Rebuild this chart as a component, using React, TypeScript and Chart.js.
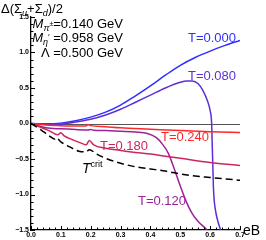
import React, { useEffect, useRef } from 'react';
import { Chart, registerables } from 'chart.js';

Chart.register(...registerables);

// ---------- data ----------
const eB_T000 = [0, 0.05, 0.1, 0.15, 0.2, 0.25, 0.3, 0.35, 0.4, 0.45, 0.5, 0.55, 0.6, 0.65, 0.7];
const dS_T000 = [0, -0.005, 0.005, 0.04, 0.09, 0.16, 0.26, 0.39, 0.53, 0.68, 0.82, 0.93, 1.02, 1.1, 1.17];

const eB_T080 = [0, 0.05, 0.1, 0.15, 0.2, 0.25, 0.3, 0.35, 0.4, 0.45, 0.5, 0.52, 0.54, 0.56, 0.575, 0.59, 0.6, 0.605, 0.607, 0.609, 0.611, 0.614, 0.619, 0.626, 0.635];
const dS_T080 = [0, -0.01, -0.01, 0.02, 0.06, 0.12, 0.2, 0.3, 0.4, 0.5, 0.58, 0.6, 0.6, 0.56, 0.47, 0.33, 0.18, 0.0, -0.3, -0.6, -0.9, -1.1, -1.25, -1.38, -1.5];

const eB_T120 = [0, 0.05, 0.1, 0.15, 0.19, 0.2, 0.21, 0.25, 0.3, 0.35, 0.39, 0.42, 0.44, 0.46, 0.48, 0.5, 0.52, 0.54, 0.56, 0.58, 0.59];
const dS_T120 = [0, -0.06, -0.075, -0.085, -0.09, -0.085, -0.095, -0.1, -0.11, -0.12, -0.14, -0.2, -0.29, -0.42, -0.64, -0.88, -1.1, -1.27, -1.38, -1.46, -1.5];

const eB_T180 = [0, 0.03, 0.06, 0.09, 0.1, 0.11, 0.14, 0.17, 0.185, 0.195, 0.21, 0.25, 0.3, 0.35, 0.4, 0.45, 0.5, 0.6, 0.7];
const dS_T180 = [0, -0.05, -0.1, -0.16, -0.13, -0.17, -0.23, -0.28, -0.3, -0.24, -0.3, -0.35, -0.38, -0.41, -0.43, -0.46, -0.49, -0.55, -0.59];

const eB_T240 = [0, 0.05, 0.1, 0.15, 0.185, 0.19, 0.2, 0.25, 0.3, 0.4, 0.5, 0.6, 0.7];
const dS_T240 = [0, -0.02, -0.03, -0.035, -0.035, -0.015, -0.03, -0.045, -0.06, -0.08, -0.1, -0.115, -0.127];

const eB_Tcrit = [0, 0.03, 0.06, 0.08, 0.085, 0.1, 0.13, 0.16, 0.185, 0.195, 0.22, 0.25, 0.3, 0.35, 0.4, 0.45, 0.5, 0.55, 0.6, 0.65, 0.7];
const dS_Tcrit = [0, -0.08, -0.17, -0.22, -0.2, -0.26, -0.33, -0.39, -0.4, -0.37, -0.43, -0.49, -0.56, -0.61, -0.64, -0.67, -0.71, -0.74, -0.76, -0.78, -0.8];

const xTickLabels = ['0.0', '0.1', '0.2', '0.3', '0.4', '0.5', '0.6', '0.7'];
const yTickLabels = ['\u22121.5', '\u22121.0', '\u22120.5', '0.0', '0.5', '1.0', '1.5'];

const FONT = "'Liberation Sans', Arial, sans-serif";

type Seg = { t: string; italic?: boolean; size?: number; dy?: number };

function segFont(s: Seg, base: number) {
  return `${s.italic ? 'italic ' : ''}${s.size ?? base}px ${FONT}`;
}

function drawRich(ctx: CanvasRenderingContext2D, segs: Seg[], x: number, y: number, align: 'left' | 'right', color: string, base: number) {
  ctx.save();
  ctx.fillStyle = color;
  ctx.textBaseline = 'alphabetic';
  ctx.textAlign = 'left';
  let w = 0;
  for (const s of segs) {
    ctx.font = segFont(s, base);
    w += ctx.measureText(s.t).width;
  }
  let cx = align === 'right' ? x - w : x;
  for (const s of segs) {
    ctx.font = segFont(s, base);
    ctx.fillText(s.t, cx, y + (s.dy ?? 0));
    cx += ctx.measureText(s.t).width;
  }
  ctx.restore();
}

const decor = {
  id: 'decor',
  beforeDatasetsDraw(chart: any) {
    const { ctx, scales } = chart;
    const x = scales.x, y = scales.y;
    ctx.save();
    ctx.strokeStyle = '#555555';
    ctx.lineWidth = 1;
    ctx.beginPath();
    const yz = Math.round(y.getPixelForValue(0)) + 0.5;
    ctx.moveTo(x.getPixelForValue(0), yz);
    ctx.lineTo(x.getPixelForValue(0.7), yz);
    ctx.stroke();
    ctx.restore();
  },
  afterDraw(chart: any) {
    const { ctx, scales } = chart;
    const xs = scales.x, ys = scales.y;
    ctx.save();
    ctx.strokeStyle = '#000';
    ctx.lineWidth = 1;
    const y0 = ys.getPixelForValue(-1.5);
    const x0 = xs.getPixelForValue(0);
    xs.ticks.forEach((t: any) => {
      const px = Math.round(xs.getPixelForValue(t.value)) + 0.5;
      const major = Math.abs(t.value * 10 - Math.round(t.value * 10)) < 1e-6;
      ctx.beginPath();
      ctx.moveTo(px, y0);
      ctx.lineTo(px, y0 - (major ? 4 : 2.5));
      ctx.stroke();
    });
    ys.ticks.forEach((t: any) => {
      const py = Math.round(ys.getPixelForValue(t.value)) + 0.5;
      const major = Math.abs(t.value * 2 - Math.round(t.value * 2)) < 1e-6;
      ctx.beginPath();
      ctx.moveTo(x0, py);
      ctx.lineTo(x0 + (major ? 4 : 2.5), py);
      ctx.stroke();
    });
    ctx.restore();

    // title & parameters
    drawRich(ctx, [
      { t: '\u0394(\u03a3' }, { t: 'u', italic: true, size: 9, dy: 3 },
      { t: '+\u03a3' }, { t: 'd', italic: true, size: 9, dy: 3 }, { t: ')/2' },
    ], 1, 13, 'left', '#000', 13);
    drawRich(ctx, [
      { t: 'M', italic: true }, { t: '\u03c0', italic: true, size: 9, dy: 3 }, { t: '\u00b1', size: 7, dy: -2 },
      { t: '=0.140 GeV' },
    ], 123, 28, 'right', '#000', 13);
    drawRich(ctx, [
      { t: 'M', italic: true }, { t: '\u03b7', italic: true, size: 9, dy: 3 }, { t: '\u2032', size: 9, dy: -2 },
      { t: ' =0.958 GeV' },
    ], 123, 42, 'right', '#000', 13);
    drawRich(ctx, [{ t: '\u039b =0.500 GeV' }], 123, 56.5, 'right', '#000', 13);

    // curve labels
    drawRich(ctx, [{ t: 'T=0.000' }], 188, 42, 'left', '#2f2fff', 13);
    drawRich(ctx, [{ t: 'T=0.080' }], 188, 80, 'left', '#5f2ed8', 13);
    drawRich(ctx, [{ t: 'T=0.240' }], 161, 141, 'left', '#ff2828', 13);
    drawRich(ctx, [{ t: 'T=0.180' }], 100, 150, 'left', '#cc2660', 13);
    drawRich(ctx, [{ t: 'T=0.120' }], 138, 205, 'left', '#9b2299', 13);
    drawRich(ctx, [{ t: 'T', italic: true }, { t: 'crit', size: 9, dy: -6 }], 82, 173, 'left', '#000', 14);
    drawRich(ctx, [{ t: 'eB' }], 243, 235, 'left', '#000', 14);
  },
};

function pts(xs: number[], ys: number[]) {
  return xs.map((x, i) => ({ x, y: ys[i] }));
}

export default function App() {
  const ref = useRef<HTMLCanvasElement>(null);
  useEffect(() => {
    if (!ref.current) return;
    const line = (data: any, color: string, dash?: number[]) => ({
      data, borderColor: color, borderWidth: 1.5, pointRadius: 0, showLine: true,
      tension: 0.3, cubicInterpolationMode: 'monotone' as const, fill: false, borderDash: dash ?? [],
    });
    const chart = new Chart(ref.current, {
      type: 'scatter',
      data: {
        datasets: [
          line(pts(eB_Tcrit, dS_Tcrit), '#000000', [7, 4]),
          line(pts(eB_T240, dS_T240), '#ff2828'),
          line(pts(eB_T180, dS_T180), '#cc2660'),
          line(pts(eB_T120, dS_T120), '#9b2299'),
          line(pts(eB_T080, dS_T080), '#5f2ed8'),
          line(pts(eB_T000, dS_T000), '#2f2fff'),
        ],
      },
      options: {
        responsive: false,
        animation: false,
        events: [],
        layout: { padding: { left: 0, top: 17, right: 26, bottom: 0 } },
        plugins: { legend: { display: false }, tooltip: { enabled: false } },
        scales: {
          x: {
            type: 'linear', min: 0, max: 0.7,
            grid: { display: false, drawTicks: false },
            border: { display: true, color: '#000', width: 1.3 },
            afterFit: (s: any) => { s.height = 10; },
            ticks: {
              stepSize: 0.02, autoSkip: false, maxRotation: 0, maxTicksLimit: 100, padding: 1,
              color: '#000', font: { size: 7, weight: 'bold', family: FONT },
              callback: (v: any) => {
                const r = Math.round(Number(v) * 10);
                return Math.abs(Number(v) * 10 - r) < 1e-6 ? xTickLabels[r] : '';
              },
            },
          },
          y: {
            type: 'linear', min: -1.5, max: 1.5,
            grid: { display: false, drawTicks: false },
            border: { display: true, color: '#000', width: 1.3 },
            afterFit: (s: any) => { s.width = 31; },
            ticks: {
              stepSize: 0.1, autoSkip: false, maxTicksLimit: 100, padding: 2,
              color: '#000', font: { size: 7, weight: 'bold', family: FONT },
              callback: (v: any) => {
                const r = Math.round(Number(v) * 2);
                return Math.abs(Number(v) * 2 - r) < 1e-6 ? yTickLabels[r + 3] : '';
              },
            },
          },
        },
      },
      plugins: [decor],
    });
    return () => chart.destroy();
  }, []);
  return (
    <div style={{ position: 'fixed', left: 0, top: 0, width: 266, height: 240, background: '#fff' }}>
      <canvas ref={ref} width={266} height={240} style={{ width: 266, height: 240 }} />
    </div>
  );
}
